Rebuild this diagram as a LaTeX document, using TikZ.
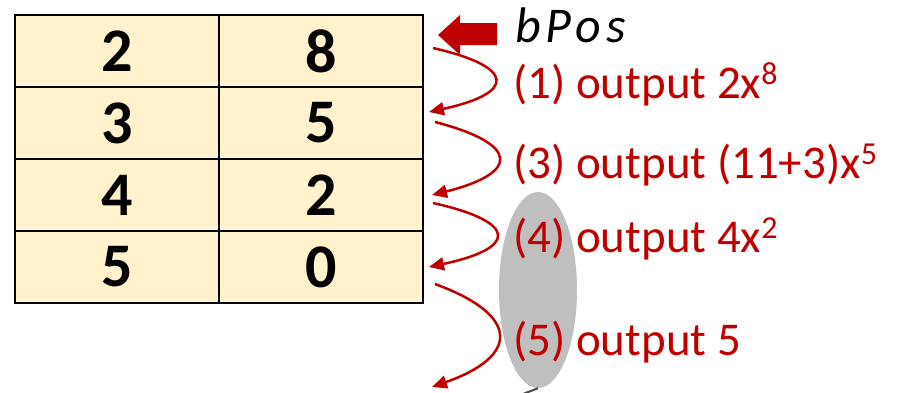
\documentclass[tikz,border=0pt]{standalone}
\usepackage{fontspec}
\setmainfont{Carlito}
\newfontfamily\posfont[LetterSpace=10]{Carlito}
\usepackage{xcolor}
\usetikzlibrary{arrows.meta,shapes.geometric}

\definecolor{cellbg}{HTML}{FFF2CC}
\definecolor{hopred}{HTML}{C00000}
\definecolor{grpgray}{HTML}{BFBFBF}

% raised power after x
\newcommand{\pw}[1]{\raisebox{14pt}{\fontsize{32}{32}\selectfont #1}}

\begin{document}
\begin{tikzpicture}[
  x=1pt, y=-1pt,
  cell/.style={draw, line width=2.5pt, fill=cellbg, minimum width=204pt,
    minimum height=72pt, inner sep=0pt, outer sep=0pt,
    font=\fontsize{62}{62}\selectfont\bfseries},
  hop/.style={draw=hopred, line width=2.5pt, -{Triangle[length=15pt,width=13pt]}},
  note/.style={anchor=base west, inner sep=0pt, text=hopred,
    font=\fontsize{47}{50}\selectfont}
]
\useasboundingbox (0,0) rectangle (899,392);

% term table: coefficient | exponent
\foreach \c/\e [count=\i] in {2/8, 3/5, 4/2, 5/0} {
  \node[cell] (coef\i) at (117, 51+72*\i-72) {\c};
  \node[cell] (expo\i) at (321, 51+72*\i-72) {\e};
}

% pointer
\fill[hopred] (438,35) -- (460,15) -- (460,23) -- (497,23)
  -- (497,45) -- (460,45) -- (460,55) -- cycle;
\node[anchor=base west, inner sep=0pt, font=\posfont\fontsize{50}{54}\selectfont\itshape]
  (bpos) at (515,42) {bPos};

% grouped terms
\node[ellipse, fill=grpgray, minimum width=78pt, minimum height=196pt, inner sep=0pt]
  (grp) at (538,290) {};
\coordinate (tail) at (523,394);
\draw[gray!60!black, line width=2pt] (grp.south) -- (tail);

% hops between rows
\coordinate (s1) at (433,48);  \coordinate (e1) at (429,112);
\coordinate (s2) at (435,122); \coordinate (e2) at (432,195);
\coordinate (s3) at (433,203); \coordinate (e3) at (429,267);
\coordinate (s4) at (435,284); \coordinate (e4) at (432,387);
\draw[hop] (s1) .. controls (516,67) and (516,93) .. (e1);
\draw[hop] (s2) .. controls (520,144) and (520,173) .. (e2);
\draw[hop] (s3) .. controls (518,222) and (518,248) .. (e3);
\draw[hop] (s4) .. controls (520,315) and (520,356) .. (e4);

% outputs
\node[note] (out1) at (513,98)  {(1) output 2x\pw{8}};
\node[note] (out3) at (513,178) {(3) output (11+3)x\pw{5}};
\node[note] (out4) at (513,252) {(4) output 4x\pw{2}};
\node[note] (out5) at (513,355) {(5) output 5};
\end{tikzpicture}
\end{document}
